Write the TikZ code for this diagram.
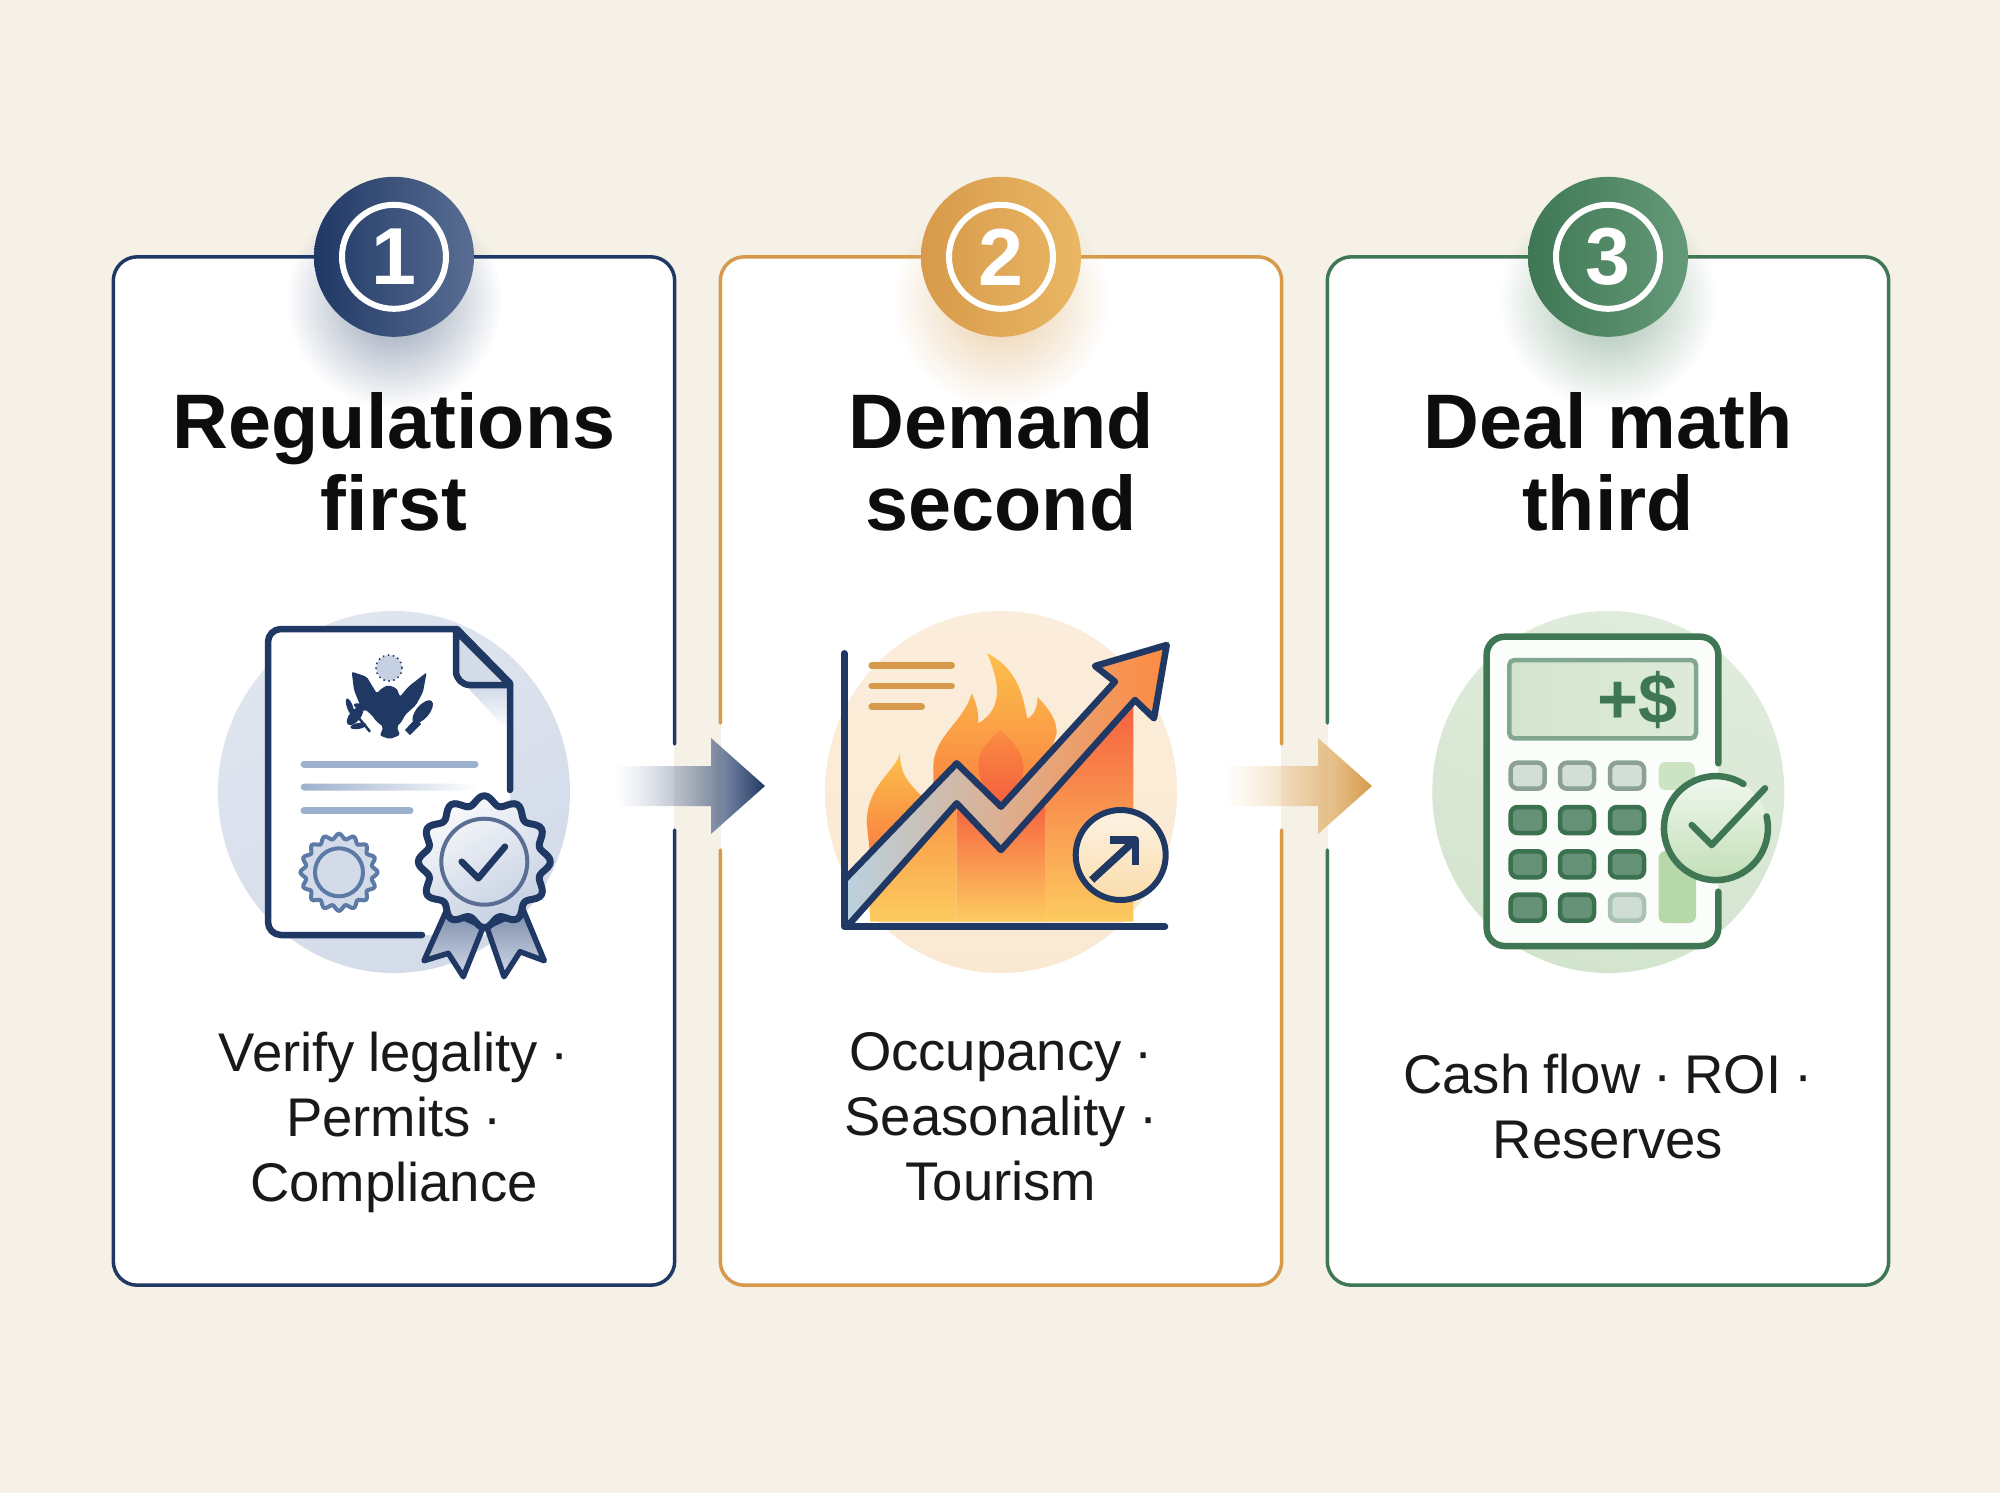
\documentclass[tikz,border=0pt]{standalone}
\usepackage{fontspec}
\setmainfont{Liberation Sans}
\usetikzlibrary{calc,fadings}
\definecolor{paper}{HTML}{F5F1E7}
\definecolor{navy}{HTML}{1F3864}
\definecolor{navylite}{HTML}{5A6E94}
\definecolor{ochre}{HTML}{D69A4A}
\definecolor{ochrelite}{HTML}{EAB765}
\definecolor{pine}{HTML}{3F7754}
\definecolor{pinelite}{HTML}{659A78}
\definecolor{mist}{HTML}{D3DBE9}
\definecolor{slate}{HTML}{9DB0CD}
\definecolor{sealblue}{HTML}{5B7AA6}
\definecolor{peach}{HTML}{FAE9D2}
\definecolor{sage}{HTML}{D3E4CE}
\definecolor{leaf}{HTML}{B7D9AA}
\definecolor{flamehi}{HTML}{FCC04C}
\definecolor{flamelo}{HTML}{F97F3F}
\definecolor{barred}{HTML}{F65F3F}
\definecolor{barlo}{HTML}{FCCB60}
\definecolor{trendlo}{HTML}{B9D2E0}
\definecolor{trendmid}{HTML}{F6D88C}
\definecolor{trendhi}{HTML}{FF8A3F}
\tikzfading[name=fadeshaft,left color=transparent!100,right color=transparent!0]
\tikzfading[name=softglow,inner color=transparent!50,outer color=transparent!100]
\newcommand{\bodyfont}{\fontsize{15.5}{18.5}\selectfont\spaceskip 0.24em\relax}
\begin{document}
\begin{tikzpicture}[x=0.1mm,y=0.1mm]
	\tikzstyle{every node}+=[inner sep=0pt]
	\tikzstyle{cardfill}=[fill=white,rounded corners=2.4mm,minimum width=5.6cm,minimum height=10.27cm]
	\tikzstyle{cardline}=[line width=0.35mm,rounded corners=2.4mm,line cap=round]
	\tikzstyle{badgedisc}=[circle,minimum size=1.6cm,shading angle=-45]
	\tikzstyle{badgering}=[circle,draw=white,line width=0.6mm,minimum size=1.04cm,text=white,font=\fontsize{23}{23}\selectfont\bfseries]
	\tikzstyle{headtext}=[align=center,text=black!95,font=\fontsize{22}{23.3}\selectfont\bfseries]
	\tikzstyle{bodytext}=[align=center,text=black!90,font=\bodyfont]
	\tikzstyle{inkline}=[line width=0.65mm,line cap=round,line join=round]
	\tikzstyle{keydark}=[draw=pine!95!black,fill=pine!80!white,line width=0.45mm,rounded corners=0.7mm,minimum width=3.4mm,minimum height=2.6mm]
	\tikzstyle{keylight}=[keydark,draw=pine!60!gray!70,fill=gray!30!pine!25]
	\tikzstyle{keypale}=[keydark,draw=pine!45,fill=pine!25]
	\useasboundingbox (0,0) rectangle (2000,-1493);
	\fill [paper] (0,0) rectangle (2000,-1493);
	\node (card1) [cardfill] at (394,-771) {};
	\node (card2) [cardfill] at (1001,-771) {};
	\node (card3) [cardfill] at (1608,-771) {};
	\coordinate (gapr1) at (0,-744);
	\coordinate (gapr2) at (0,-830);
	\coordinate (gapl1) at (0,-723);
	\coordinate (gapl2) at (0,-850);
	\draw [cardline,navy] (card1.east |- gapr1) -- (card1.north east) -- (card1.north west) -- (card1.south west) -- (card1.south east) -- (card1.east |- gapr2);
	\draw [cardline,ochre] (card2.east |- gapr1) -- (card2.north east) -- (card2.north west) -- (card2.west |- gapl1);
	\draw [cardline,ochre] (card2.east |- gapr2) -- (card2.south east) -- (card2.south west) -- (card2.west |- gapl2);
	\draw [cardline,pine] (card3.west |- gapl1) -- (card3.north west) -- (card3.north east) -- (card3.south east) -- (card3.south west) -- (card3.west |- gapl2);
	\fill [navy,path fading=softglow] (394,-300) circle (108);
	\fill [ochre,path fading=softglow] (1001,-300) circle (108);
	\fill [pine,path fading=softglow] (1608,-300) circle (108);
	\node (badge1) [badgedisc,left color=navy,right color=navylite] at (card1.north) {};
	\node (ring1) [badgering] at (badge1) {1};
	\node (badge2) [badgedisc,left color=ochre,right color=ochrelite] at (card2.north) {};
	\node (ring2) [badgering] at (badge2) {2};
	\node (badge3) [badgedisc,left color=pine,right color=pinelite] at (card3.north) {};
	\node (ring3) [badgering] at (badge3) {3};
	\node (head1) [headtext] at (394,-462) {Regulations\\first};
	\node (head2) [headtext] at (1001,-462) {Demand\\second};
	\node (head3) [headtext] at (1608,-462) {Deal math\\third};
	\node (body1) [bodytext] at (394,-1122) {Verify legality ·\\Permits ·\\Compliance};
	\node (body2) [bodytext] at (1001,-1117) {Occupancy ·\\Seasonality ·\\Tourism};
	\node (body3) [bodytext] at (1608,-1107) {Cash flow · ROI ·\\Reserves};
	\coordinate (arrow1s) at (617,-786);
	\coordinate (arrow1t) at (765,-786);
	\coordinate (arrow2s) at (1224,-786);
	\coordinate (arrow2t) at (1372,-786);
	\shade [left color=navylite!70,right color=navy,path fading=fadeshaft] ($(arrow1s)+(0,20)$) -- ($(arrow1t)+(-54,20)$) -- ($(arrow1t)+(-54,48)$) -- (arrow1t) -- ($(arrow1t)+(-54,-48)$) -- ($(arrow1t)+(-54,-20)$) -- ($(arrow1s)+(0,-20)$) -- cycle;
	\shade [left color=ochrelite!70,right color=ochre,path fading=fadeshaft] ($(arrow2s)+(0,20)$) -- ($(arrow2t)+(-54,20)$) -- ($(arrow2t)+(-54,48)$) -- (arrow2t) -- ($(arrow2t)+(-54,-48)$) -- ($(arrow2t)+(-54,-20)$) -- ($(arrow2s)+(0,-20)$) -- cycle;
	\shade [top color=mist!70,bottom color=mist,shading angle=30] (394,-792) ellipse (176 and 181);
	\fill [white,rounded corners=1.3mm] (268,-629) -- (457,-629) -- (510,-683) -- (510,-935) -- (268,-935) -- cycle;
	\shade [top color=mist,bottom color=white] (468,-688) -- (507,-688) -- (507,-730) -- cycle;
	\draw [inkline,navy,fill=mist] (456,-631) [rounded corners=1.4mm] -- (456,-685) [sharp corners] -- (510,-685) -- cycle;
	\draw [inkline,navy] (422,-935) [rounded corners=1.3mm] -- (268,-935) -- (268,-629) [sharp corners] -- (457,-629) -- (510,-683) -- (510,-790);
	\draw [navy,fill=mist!75!slate,line width=0.15mm,densely dotted] (389,-668) circle (13);
	\fill [navy,rounded corners=0.2mm] (351.7,-671.7) -- (366.7,-676.7) -- (376.7,-693.3) -- (381.7,-688.3) -- (388.3,-685) -- (396.7,-688.3) -- (400,-696.7) -- (408.3,-686.7) -- (426.7,-672.3) -- (423,-692) -- (416,-705) -- (405,-715) -- (401.7,-721.7) -- (396.7,-726.7) -- (400,-735) -- (390,-739) -- (380,-735.7) -- (383.3,-726.7) -- (376.7,-721.7) -- (371.7,-715) -- (360,-705) -- (354,-690) -- cycle;
	\draw [navy,line width=0.25mm] (370,-731.7) -- (348.3,-705);
	\fill [navy,rotate around={50:(355,-716)}] (355,-716) ellipse (11 and 5.5);
	\fill [navy,rotate around={110:(350,-707)}] (350,-707) ellipse (9 and 3);
	\fill [navy,rotate around={-20:(361,-706)}] (361,-707) ellipse (7 and 3);
	\fill [navy,rotate around={10:(358,-724)}] (358,-726) ellipse (8 and 3);
	\fill [navy,rotate around={50:(422.7,-711.7)}] (422.7,-711.7) ellipse (14 and 6.5);
	\fill [navy] (416,-718) -- (421,-724) -- (410,-735) -- (405,-730) -- cycle;
	\draw [slate,line width=0.7mm,line cap=round] (304,-764) -- (475,-764);
	\shade [left color=slate,middle color=slate,right color=white,rounded corners=0.35mm] (300.7,-783.5) rectangle (478,-790.5);
	\draw [slate,line width=0.7mm,line cap=round] (304,-810.7) -- (410,-810.7);
	\draw [sealblue,fill=mist,line width=0.4mm] plot [domain=0:360,samples=145,smooth] ({339+(36+2.5*cos(16*\x))*cos(\x)},{-872.3+(36+2.5*cos(16*\x))*sin(\x)}) -- cycle;
	\draw [sealblue,fill=mist,line width=0.4mm] (339,-872.3) circle (24);
	\draw [navy,line width=0.55mm,line join=round,top color=navylite!80,bottom color=mist] (446.7,-910) -- (424,-960.7) -- (448.3,-953.3) -- (463.3,-976.7) -- (483.3,-926.7) -- cycle;
	\draw [navy,line width=0.55mm,line join=round,top color=navylite!80,bottom color=mist] (486.7,-926.7) -- (504,-976.7) -- (520,-951.7) -- (544.3,-960.7) -- (523.3,-910) -- cycle;
	\draw [navy,line width=0.7mm,line join=round,top color=white!85!mist,bottom color=mist!70!slate,shading angle=30] plot [domain=0:360,samples=145,smooth] ({484.3+(61.5+4.5*cos(12*\x))*cos(\x)},{-861.7+(61.5+4.5*cos(12*\x))*sin(\x)}) -- cycle;
	\draw [navylite,line width=0.4mm] (484.3,-861.7) circle (43);
	\draw [inkline,navy] (461.7,-861.7) -- (478.3,-878.3) -- (505,-846.7);
	\shade [top color=peach!80,bottom color=peach] (1001,-792) ellipse (176 and 181);
	\draw [inkline,ochre] (871.7,-665.3) -- (951.7,-665.3);
	\draw [inkline,ochre] (871.7,-686) -- (951.7,-686);
	\draw [inkline,ochre] (871.7,-706.7) -- (921.7,-706.7);
	\shade [top color=flamehi,bottom color=flamelo] (900,-753.3) .. controls (895,-772) and (866.7,-785) .. (866.7,-823.3) -- (870,-853.3) -- (925,-800) .. controls (912,-785) and (900,-778) .. (900,-753.3) -- cycle;
	\shade [top color=flamehi,bottom color=flamelo] (933.3,-770) .. controls (931.7,-736.7) and (963.3,-723.3) .. (971.7,-693.3) .. controls (978.3,-706.7) and (978.3,-716) .. (978.3,-723.3) .. controls (1006.7,-706.7) and (996.7,-676.7) .. (987.3,-653.3) .. controls (1020,-670) and (1023.3,-700) .. (1027.3,-718.3) .. controls (1033.3,-716.7) and (1038.3,-706.7) .. (1037.3,-696.7) .. controls (1050,-710) and (1056.7,-720) .. (1056.7,-733.3) -- (1033.3,-806.7) -- (966.7,-806.7) -- (933.3,-790) -- cycle;
	\shade [top color=flamelo!80!flamehi,bottom color=barred] (1000,-730) .. controls (990,-740) and (978.3,-750) .. (978.3,-763.3) .. controls (978.3,-785) and (990,-795) .. (1000,-803.3) .. controls (1012,-795) and (1023.3,-785) .. (1023.3,-766.7) .. controls (1023.3,-750) and (1010,-740) .. (1000,-730) -- cycle;
	\shade [top color=flamelo!75!flamehi,bottom color=barlo] (870,-921.7) -- (870,-895) -- (956.7,-790) -- (956.7,-921.7) -- cycle;
	\shade [top color=barred,bottom color=barlo] (956.7,-800) -- (1001,-840) -- (1045,-800) -- (1045,-921.7) -- (956.7,-921.7) -- cycle;
	\shade [top color=barred,bottom color=barlo] (1045,-790) -- (1133.3,-700) -- (1133.3,-921.7) -- (1045,-921.7) -- cycle;
	\draw [inkline,navy,left color=trendlo,middle color=trendmid,right color=trendhi] (844.3,-880) -- (956.7,-763.3) -- (1001,-806.7) -- (1115,-681.7) -- (1095,-666) -- (1166.7,-645) -- (1154,-718.3) -- (1135,-700) -- (1001,-850) -- (956.7,-803.3) -- (850,-923.3) -- (844.3,-923) -- cycle;
	\draw [inkline,navy] (844.3,-653.3) -- (844.3,-926.7) -- (1165,-926.7);
	\draw [navy,line width=0.6mm,top color=peach!60,bottom color=flamehi!30!peach] (1120.7,-855) circle (45);
	\draw [navy,line width=0.75mm] (1091.7,-880) -- (1133,-842);
	\draw [navy,line width=0.75mm,line join=round] (1110,-840) -- (1135.7,-840) -- (1135.7,-865);
	\shade [top color=sage!70,bottom color=sage,shading angle=-20] (1608.3,-792) ellipse (176 and 181);
	\fill [white!92!sage,rounded corners=1.8mm] (1486.7,-636.7) rectangle (1718.3,-946);
	\draw [inkline,pine,rounded corners=1.8mm] (1718.3,-763.3) -- (1718.3,-636.7) -- (1486.7,-636.7) -- (1486.7,-946) -- (1718.3,-946) -- (1718.3,-891.7);
	\draw [pine!65,line width=0.45mm,rounded corners=0.5mm,left color=sage,right color=sage!75] (1509.3,-660) rectangle (1696,-738.3);
	\node (amount) [text=pine,font=\fontsize{20}{20}\selectfont\bfseries] at (1638,-700) {+\$};
	\node (key11) [keylight] at (1527.7,-775.7) {};
	\node (key12) [keylight] at (1577,-775.7) {};
	\node (key13) [keylight] at (1627,-775.7) {};
	\node (key21) [keydark] at (1527.7,-820) {};
	\node (key22) [keydark] at (1577,-820) {};
	\node (key23) [keydark] at (1627,-820) {};
	\node (key31) [keydark] at (1527.7,-864.3) {};
	\node (key32) [keydark] at (1577,-864.3) {};
	\node (key33) [keydark] at (1627,-864.3) {};
	\node (key41) [keydark] at (1527.7,-907.7) {};
	\node (key42) [keydark] at (1577,-907.7) {};
	\node (key43) [keypale] at (1627,-907.7) {};
	\fill [leaf!70!white,rounded corners=0.7mm] (1658.5,-762) rectangle (1695,-790);
	\fill [leaf,rounded corners=0.7mm] (1658.5,-851) rectangle (1696,-923);
	\shade [top color=white!80!leaf,bottom color=leaf!85!white] (1716,-828.3) circle (52);
	\draw [inkline,pine] (1743.5,-784) arc (58:373:52);
	\draw [inkline,pine] (1691.7,-825) -- (1711.7,-845) -- (1765,-788.3);
\end{tikzpicture}
\end{document}
